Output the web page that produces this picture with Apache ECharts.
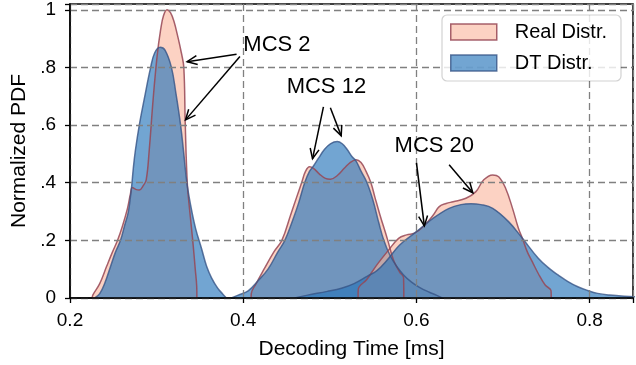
<!DOCTYPE html>
<html><head><meta charset="utf-8">
<script src="https://cdn.jsdelivr.net/npm/echarts@6/dist/echarts.min.js"></script>
<style>html,body{margin:0;padding:0;background:#fff}#c{width:636px;height:365px}</style>
</head><body><div id="c"></div>
<script>
// ---- data (Decoding Time [ms] vs Normalized PDF) ----
const real2X=[.2257,.2263,.2343,.2423,.2491,.2549,.2606,.2663,.2697,.2720,.2766,.2800,.2846,.2880,.2914,.2960,.3006,.3046,.3080,.3120,.3160,.3200,.3246,.3286,.3314,.3331,.3354,.3383,.3417,.3446,.3463,.3465];
const real2Y=[0,.01,.05,.11,.16,.2,.25,.31,.36,.383,.376,.375,.39,.41,.51,.69,.84,.93,.98,1.0,.99,.96,.905,.85,.8,.6,.4,.3,.2,.1,.04,0];
const dt2X=[.2286,.2343,.2400,.2469,.2526,.2583,.2629,.2674,.2709,.2731,.2754,.2800,.2857,.2931,.2977,.3040,.3097,.3171,.3223,.3277,.3314,.3349,.3394,.3451,.3520,.3577,.3634,.3703,.3760,.3806];
const dt2Y=[0,.015,.05,.11,.16,.2,.25,.3,.38,.45,.51,.6,.69,.8,.85,.87,.86,.8,.71,.6,.5,.4,.32,.24,.17,.11,.07,.035,.015,0];
const real12X=[.4091,.4093,.4149,.4240,.4354,.4446,.4549,.4617,.4674,.4720,.4766,.4811,.4880,.4949,.5006,.5086,.5166,.5234,.5303,.5360,.5417,.5474,.5520,.5577,.5669,.5737,.5806,.5851,.5854];
const real12Y=[0,.015,.05,.1,.16,.2,.29,.35,.4,.44,.455,.45,.43,.415,.412,.425,.45,.47,.48,.47,.44,.4,.35,.29,.2,.13,.09,.07,0];
const dt12X=[.3863,.3943,.4057,.4171,.4286,.4400,.4480,.4571,.4640,.4709,.4766,.4811,.4869,.4937,.5006,.5086,.5143,.5200,.5257,.5303,.5360,.5429,.5497,.5566,.5623,.5691,.5771,.5851,.5943,.6034,.6149,.6229,.6297];
const dt12Y=[0,.01,.025,.06,.1,.16,.2,.27,.33,.4,.44,.458,.485,.515,.535,.543,.535,.515,.49,.475,.44,.4,.34,.26,.2,.15,.11,.08,.055,.037,.02,.01,0];
const real20X=[.5326,.5328,.5429,.5543,.5680,.5794,.5886,.5977,.6080,.6194,.6263,.6343,.6423,.6571,.6686,.6777,.6880,.6949,.7029,.7109,.7177,.7223,.7280,.7337,.7406,.7486,.7554,.7556];
const real20Y=[0,.03,.065,.115,.167,.207,.219,.225,.248,.288,.317,.328,.334,.346,.369,.41,.427,.421,.381,.311,.242,.207,.16,.126,.085,.045,.025,0];
const dt20X=[.4594,.4743,.4971,.5143,.5280,.5429,.5543,.5657,.5806,.6000,.6194,.6377,.6514,.6629,.6743,.6880,.7063,.7223,.7406,.7543,.7634,.7749,.7863,.7977,.8091,.8229,.8400,.8571];
const dt20Y=[0,.01,.023,.035,.05,.075,.095,.13,.184,.23,.277,.311,.324,.327,.324,.311,.265,.207,.138,.1,.08,.057,.039,.026,.016,.01,.006,.004];

const xTickVals=[.2,.4,.6,.8];
const xTickLabels=['0.2','0.4','0.6','0.8'];
const yTickVals=[0,.2,.4,.6,.8,1];
const yTickLabels=['0','.2','.4','.6','.8','1'];
const seriesNames=['Real Distr.','DT Distr.'];

// annotations (data coordinates)
const annoTexts=['MCS 2','MCS 12','MCS 20'];
const annoX=[.4389,.4960,.6206];
const annoY=[.878,.733,.528];
const arrowTailX=[.3923,.3962,.4926,.5006,.6000,.6377];
const arrowTailY=[.846,.838,.663,.660,.469,.462];
const arrowHeadX=[.3352,.3334,.4800,.5131,.6091,.6651];
const arrowHeadY=[.820,.618,.483,.5625,.250,.365];

const FONT='"Liberation Sans", Arial, Helvetica, sans-serif';
const REAL_FILL='rgba(250,180,155,0.6)', REAL_LINE='rgba(150,70,85,0.85)';
const DT_FILL='rgba(38,117,186,0.65)', DT_LINE='rgba(55,85,135,0.8)';

function pairs(xs,ys){return xs.map((x,i)=>[x,ys[i]]);}
function area(kind,xs,ys){
  const real=kind==='real';
  return {type:'line',name:real?seriesNames[0]:seriesNames[1],data:pairs(xs,ys),
    smooth:0.4,showSymbol:false,symbol:'none',silent:true,
    lineStyle:{color:real?REAL_LINE:DT_LINE,width:1.5},
    itemStyle:{color:real?REAL_FILL:DT_FILL,borderColor:real?REAL_LINE:DT_LINE},
    areaStyle:{color:real?REAL_FILL:DT_FILL,opacity:1},z:2};
}
function lab(vals,labels){return v=>{for(let i=0;i<vals.length;i++){if(Math.abs(vals[i]-v)<1e-6)return labels[i];}return '';};}

const chart=echarts.init(document.getElementById('c'),null,{renderer:'canvas'});
const grid={left:70,top:4,width:568.75,height:294,show:true,borderColor:'#000',borderWidth:1.5,backgroundColor:'transparent'};
chart.setOption({
  animation:false,
  grid:grid,
  legend:{orient:'vertical',left:442,top:15,itemWidth:46,itemHeight:16,itemGap:11,
    padding:[7,14,8,8],backgroundColor:'rgba(255,255,255,0.8)',borderColor:'rgba(0,0,0,0.18)',borderWidth:1.2,borderRadius:5,
    textStyle:{fontFamily:FONT,fontSize:20,color:'#000',padding:[0,0,0,13]},z:10,
    data:[{name:seriesNames[0],icon:'rect',itemStyle:{color:REAL_FILL,borderColor:REAL_LINE,borderWidth:1.5}},
          {name:seriesNames[1],icon:'rect',itemStyle:{color:DT_FILL,borderColor:DT_LINE,borderWidth:1.5}}]},
  xAxis:{type:'value',min:.2,max:.85,interval:.2,z:3,
    name:'Decoding Time [ms]',nameLocation:'middle',nameGap:41,nameTextStyle:{fontFamily:FONT,fontSize:21,color:'#000'},
    axisLine:{show:true,lineStyle:{color:'#000',width:1.5}},
    axisTick:{show:true,length:5,lineStyle:{color:'#000',width:1.3}},
    axisLabel:{fontFamily:FONT,fontSize:19,color:'#000',margin:13,formatter:lab(xTickVals,xTickLabels)},
    splitLine:{show:true,lineStyle:{color:'#808080',width:1.3,type:[7,4]}}},
  yAxis:{type:'value',min:0,max:1.02,interval:.2,z:3,
    name:'Normalized PDF',nameLocation:'middle',nameGap:39,nameTextStyle:{fontFamily:FONT,fontSize:21,color:'#000'},
    axisLine:{show:true,lineStyle:{color:'#000',width:1.5}},
    axisTick:{show:true,length:5,lineStyle:{color:'#000',width:1.3}},
    axisLabel:{fontFamily:FONT,fontSize:19,color:'#000',margin:14,formatter:lab(yTickVals,yTickLabels)},
    splitLine:{show:true,lineStyle:{color:'#808080',width:1.3,type:[7,4]}}},
  series:[area('real',real2X,real2Y),area('dt',dt2X,dt2Y),
          area('real',real12X,real12Y),area('dt',dt12X,dt12Y),
          area('real',real20X,real20Y),area('dt',dt20X,dt20Y)]
});

// annotations: text + open arrowheads, positioned through the chart's coordinate system
const g=[];
annoTexts.forEach((t,i)=>{
  const p=chart.convertToPixel({gridIndex:0},[annoX[i],annoY[i]]);
  g.push({type:'text',z:20,style:{text:t,x:p[0],y:p[1],fill:'#000',font:'22px '+FONT,align:'center',verticalAlign:'middle'}});
});
arrowTailX.forEach((_,i)=>{
  const a=chart.convertToPixel({gridIndex:0},[arrowTailX[i],arrowTailY[i]]);
  const b=chart.convertToPixel({gridIndex:0},[arrowHeadX[i],arrowHeadY[i]]);
  const ang=Math.atan2(a[1]-b[1],a[0]-b[0]);
  const L=11, th=0.42;
  g.push({type:'line',z:20,shape:{x1:a[0],y1:a[1],x2:b[0],y2:b[1]},style:{stroke:'#000',lineWidth:1.5}});
  g.push({type:'polyline',z:20,shape:{points:[[b[0]+L*Math.cos(ang+th),b[1]+L*Math.sin(ang+th)],[b[0],b[1]],[b[0]+L*Math.cos(ang-th),b[1]+L*Math.sin(ang-th)]]},style:{stroke:'#000',lineWidth:1.5,fill:null}});
});
chart.setOption({graphic:g});
</script></body></html>
